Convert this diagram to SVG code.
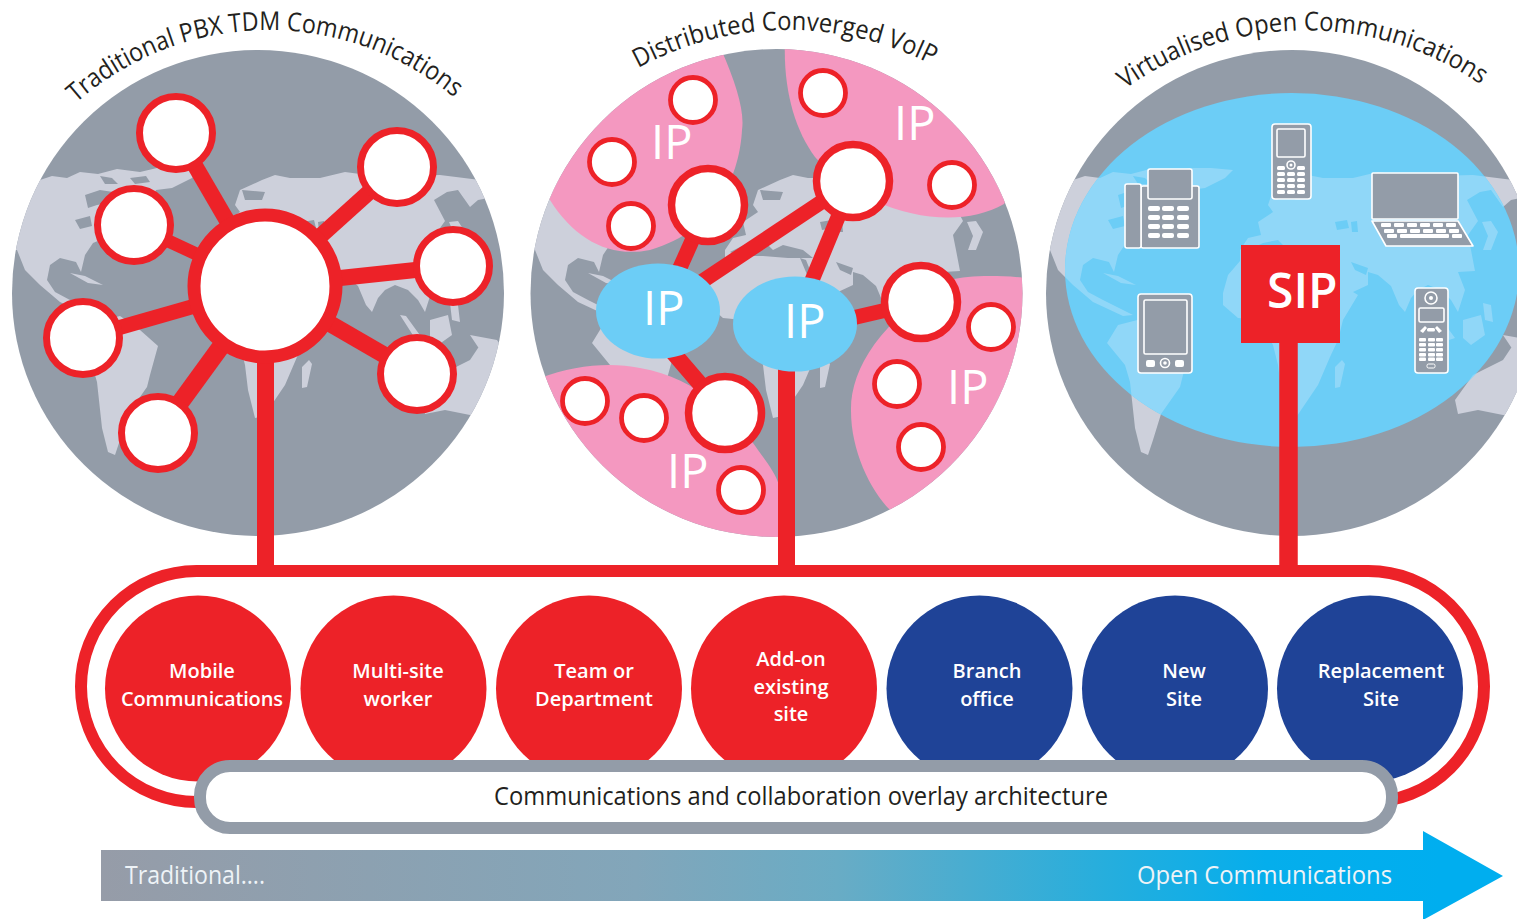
<svg xmlns="http://www.w3.org/2000/svg" width="1517" height="919" viewBox="0 0 1517 919">
<style>
text{font-family:"Open Sans","Noto Sans","Liberation Sans",sans-serif}
.globe{fill:#939ca8}
.land{fill:#cdd0db}
.sea{fill:#939ca8}
.pink{fill:#f498c0}
.sky{fill:#6ccdf6}
.n1{fill:#fff;stroke:#ed2228;stroke-width:7}
.n2{fill:#fff;stroke:#ed2228;stroke-width:7.500}
.n3{fill:#fff;stroke:#ed2228;stroke-width:4.800}
.hub{fill:#fff;stroke:#ed2228;stroke-width:13}
.c{stroke:#ed2228;fill:none}
.title{font-size:26px;fill:#231f20}
.ip{font-size:47px;fill:#fff;font-weight:500}
.sip{font-size:48px;fill:#fff;font-weight:600}
.lab{font-size:20px;font-weight:600;fill:#fff;text-anchor:middle}
.red{fill:#ed2228}
.blue{fill:#1f4397}
.dev{fill:#939ca8;stroke:#fff;stroke-width:1.600;stroke-linejoin:round}
.key{fill:#fff}
.arr{font-size:25px;fill:#eef3f7}
</style>
<defs>
<clipPath id="cg1"><ellipse cx="258" cy="293" rx="246" ry="243"/></clipPath>
<clipPath id="cg2"><ellipse cx="776.5" cy="293" rx="246" ry="244"/></clipPath>
<clipPath id="cg3"><ellipse cx="1292" cy="293" rx="246" ry="243"/></clipPath>
<clipPath id="co3"><ellipse cx="1292" cy="270" rx="227" ry="177"/></clipPath>
<linearGradient id="ag" gradientUnits="userSpaceOnUse" x1="101" y1="0" x2="1440" y2="0">
<stop offset="0" stop-color="#969ca8"/><stop offset=".4" stop-color="#82a6ba"/><stop offset=".55" stop-color="#69acc5"/><stop offset=".75" stop-color="#26aedd"/><stop offset=".87" stop-color="#05aeec"/><stop offset="1" stop-color="#00aeef"/>
</linearGradient>
<path id="landp" d="M-20,180 L40,180 52,176 67,178 80,172 98,174 117,169 140,172 157,168 178,168 200,170 192,178 172,188 156,190 150,205 135,212 118,225 105,238 93,243 85,255 81,272 76,262 60,258 50,265 47,280 55,292 70,300 100,315 90,316 60,302 40,285 25,270 17,250 -20,250Z
M85,325 L120,316 140,330 158,346 150,375 147,387 128,414 120,440 115,455 108,452 102,428 97,382 92,365 74,343Z
M190,293 L195,275 207,261 207,250 215,238 228,235 225,222 240,212 235,205 240,190 262,180 275,175 290,178 320,178 345,172 375,176 400,176 440,175 480,180 530,180 530,190 478,200 470,207 458,190 447,192 434,200 445,221 435,235 438,250 442,271 425,272 432,290 425,312 418,300 408,290 395,285 385,290 378,298 372,312 366,305 358,286 345,275 335,272 335,285 320,292 325,295 310,320 305,340 297,357 285,385 264,416 255,418 248,390 245,365 240,345 225,320 205,318 190,305Z
M422,400 L440,375 470,360 480,345 497,350 530,380 510,420 470,415 445,410 425,414Z
M449,222 L458,221 465,232 458,250 450,250 455,236Z
M400,315 L406,316 422,338 416,340Z M430,320 L448,315 452,335 438,345 430,338Z M450,303 L458,305 460,322 452,320Z M470,335 L497,340 505,352 480,350Z
M302,367 L309,360 312,364 307,387 302,388Z
M70,273 L85,276 103,285 88,283Z"/>
<path id="seap" d="M85,195 L100,190 113,192 108,203 97,205 88,208Z M75,220 L90,216 92,226 80,229Z M100,176 L112,178 118,184 105,184Z M130,178 L146,176 150,182 135,184Z M212,252 L230,243 245,240 255,250 265,245 285,250 295,258 270,258 245,256 220,256Z M302,222 L314,220 316,228 304,230Z M318,222 L324,221 325,232 319,232Z M242,190 L265,192 262,200 245,200Z M282,258 L288,260 298,285 293,284Z M318,262 L335,268 333,275 322,270Z"/>
</defs>

<g id="globe-traditional">
<ellipse class="globe" cx="258" cy="293" rx="246" ry="243"/>
<g clip-path="url(#cg1)"><use href="#landp" class="land"/><use href="#seap" class="sea"/></g>
<path id="t1" d="M76,103 A290,290 0 0 1 480,122" fill="none"/>
<text class="title"><textPath href="#t1" textLength="412" lengthAdjust="spacingAndGlyphs">Traditional PBX TDM Communications</textPath></text>
</g>

<g id="globe-distributed">
<ellipse class="globe" cx="776.5" cy="293" rx="246" ry="244"/>
<g clip-path="url(#cg2)">
<use href="#landp" class="land" x="518"/><use href="#seap" class="sea" x="518"/>
<path class="pink" d="M717,40 C735,80 745,110 742,130 C740,170 720,230 650,250 C610,258 575,240 550,200 L490,120 L640,20Z"/>
<path class="pink" d="M785,40 C783,90 795,130 815,157 C860,210 950,235 1004,204 L1060,100 L1000,20Z"/>
<path class="pink" d="M1040,279 C1000,275 970,275 950,280 C880,320 850,370 851,411 C851,450 870,490 890,510 L1040,540Z"/>
<path class="pink" d="M540,378 C575,365 610,362 640,368 C700,378 735,420 753,443 C765,460 775,472 779,485 L779,545 L500,545Z"/>
</g>
<path id="t2" d="M638,68 A315,315 0 0 1 960,81" fill="none"/>
<text class="title"><textPath href="#t2" textLength="306" lengthAdjust="spacingAndGlyphs">Distributed Converged VoIP</textPath></text>
<text class="ip" x="651" y="159">IP</text>
<text class="ip" x="894" y="140">IP</text>
<text class="ip" x="947" y="404">IP</text>
<text class="ip" x="667" y="488">IP</text>
</g>

<g id="globe-virtualised">
<ellipse class="globe" cx="1292" cy="293" rx="246" ry="243"/>
<g clip-path="url(#cg3)"><use href="#landp" class="land" x="1033"/><use href="#seap" class="sea" x="1033"/></g>
<ellipse class="sky" cx="1292" cy="270" rx="227" ry="177"/>
<g clip-path="url(#co3)"><use href="#landp" fill="#90d7f8" x="1033"/><use href="#seap" class="sky" x="1033"/></g>
<path id="t3" d="M1125,89 A309,309 0 0 1 1505,103" fill="none"/>
<text class="title"><textPath href="#t3" textLength="379" lengthAdjust="spacingAndGlyphs">Virtualised Open Communications</textPath></text>
</g>

<g id="connectors">
<path class="c" stroke-width="16" d="M176,133 L265,286"/>
<path class="c" stroke-width="13" d="M134,225 L265,286"/>
<path class="c" stroke-width="16" d="M397,167 L265,286"/>
<path class="c" stroke-width="16" d="M453,266 L265,286"/>
<path class="c" stroke-width="15" d="M83,338 L265,286"/>
<path class="c" stroke-width="18" d="M158,433 L265,286"/>
<path class="c" stroke-width="17" d="M417,374 L265,286"/>
<path class="c" stroke-width="17" d="M265.500,286 V570"/>
<path class="c" stroke-width="15" d="M708,205 L670,290"/>
<path class="c" stroke-width="15" d="M853,181 L680,296"/>
<path class="c" stroke-width="15" d="M853,181 L808,290"/>
<path class="c" stroke-width="15" d="M921,302 L835,322"/>
<path class="c" stroke-width="16" d="M658,335 L725,413"/>
<path class="c" stroke-width="17" d="M786.500,340 V570"/>
<path class="c" stroke-width="18.500" d="M1288.500,320 V570"/>
<rect class="c" stroke-width="12" x="81" y="571" width="1403" height="231" rx="115.500"/>
</g>

<g id="hub-traditional"><circle class="hub" cx="265" cy="286" r="71"/></g>
<g id="node-t1"><circle class="n1" cx="176" cy="133" r="36.500"/></g>
<g id="node-t2"><circle class="n1" cx="397" cy="167" r="36.500"/></g>
<g id="node-t3"><circle class="n1" cx="134" cy="225" r="36.500"/></g>
<g id="node-t4"><circle class="n1" cx="453" cy="266" r="36.500"/></g>
<g id="node-t5"><circle class="n1" cx="83" cy="338" r="36.500"/></g>
<g id="node-t6"><circle class="n1" cx="417" cy="374" r="36.500"/></g>
<g id="node-t7"><circle class="n1" cx="158" cy="433" r="36.500"/></g>

<g id="ip-cloud-left"><ellipse class="sky" cx="658" cy="311" rx="62" ry="47.500"/><text class="ip" x="643" y="325">IP</text></g>
<g id="ip-cloud-right"><ellipse class="sky" cx="795" cy="324" rx="62" ry="47.500"/><text class="ip" x="784" y="338">IP</text></g>
<g id="node-d-large">
<circle class="n2" cx="708" cy="205" r="36.500"/><circle class="n2" cx="853" cy="181" r="36.500"/><circle class="n2" cx="921" cy="302" r="36.500"/><circle class="n2" cx="725" cy="413" r="36.500"/>
</g>
<g id="node-d-small">
<circle class="n3" cx="693" cy="100" r="22.500"/><circle class="n3" cx="612" cy="162" r="22.500"/><circle class="n3" cx="631" cy="226" r="22.500"/><circle class="n3" cx="823" cy="93" r="22.500"/><circle class="n3" cx="952" cy="185" r="22.500"/><circle class="n3" cx="991" cy="327" r="22.500"/><circle class="n3" cx="897" cy="384" r="22.500"/><circle class="n3" cx="921" cy="447" r="22.500"/><circle class="n3" cx="585" cy="401" r="22.500"/><circle class="n3" cx="644" cy="418" r="22.500"/><circle class="n3" cx="741" cy="490" r="22.500"/>
</g>

<g id="sip"><rect class="red" x="1241" y="245" width="99" height="98"/><text class="sip" x="1267" y="308">SIP</text></g>

<g id="device-deskphone">
<rect class="dev" x="1141" y="186" width="58" height="62" rx="2"/>
<rect class="dev" x="1125" y="184" width="16" height="64" rx="2"/>
<rect class="dev" x="1148" y="169" width="44" height="30" rx="2"/>
<g class="key"><rect x="1148" y="206" width="12" height="5" rx="2"/><rect x="1162" y="206" width="12" height="5" rx="2"/><rect x="1177" y="206" width="12" height="5" rx="2"/><rect x="1148" y="215" width="12" height="5" rx="2"/><rect x="1162" y="215" width="12" height="5" rx="2"/><rect x="1177" y="215" width="12" height="5" rx="2"/><rect x="1148" y="224" width="12" height="5" rx="2"/><rect x="1162" y="224" width="12" height="5" rx="2"/><rect x="1177" y="224" width="12" height="5" rx="2"/><rect x="1148" y="233" width="12" height="5" rx="2"/><rect x="1162" y="233" width="12" height="5" rx="2"/><rect x="1177" y="233" width="12" height="5" rx="2"/></g>
</g>
<g id="device-mobile">
<rect class="dev" x="1272" y="124" width="39" height="75" rx="3"/>
<rect class="dev" x="1277" y="129" width="28" height="28" rx="1.500"/>
<circle class="dev" cx="1291" cy="165" r="4"/><circle class="key" cx="1291" cy="165" r="1.500"/>
<g class="key"><rect x="1277" y="166" width="8" height="4" rx="1.500"/><rect x="1297" y="166" width="8" height="4" rx="1.500"/><rect x="1277" y="172" width="8" height="4" rx="1.500"/><rect x="1287" y="172" width="8" height="4" rx="1.500"/><rect x="1297" y="172" width="8" height="4" rx="1.500"/><rect x="1277" y="178" width="8" height="4" rx="1.500"/><rect x="1287" y="178" width="8" height="4" rx="1.500"/><rect x="1297" y="178" width="8" height="4" rx="1.500"/><rect x="1277" y="184" width="8" height="4" rx="1.500"/><rect x="1287" y="184" width="8" height="4" rx="1.500"/><rect x="1297" y="184" width="8" height="4" rx="1.500"/><rect x="1277" y="190" width="8" height="4" rx="1.500"/><rect x="1287" y="190" width="8" height="4" rx="1.500"/><rect x="1297" y="190" width="8" height="4" rx="1.500"/></g>
</g>
<g id="device-laptop">
<rect class="dev" x="1372" y="173" width="86" height="46" rx="1"/>
<path class="dev" d="M1372,221 H1458 L1473,246 H1386Z"/>
<g class="key"><rect x="1381" y="223" width="10" height="4" rx="1"/><rect x="1394" y="223" width="10" height="4" rx="1"/><rect x="1407" y="223" width="10" height="4" rx="1"/><rect x="1420" y="223" width="10" height="4" rx="1"/><rect x="1433" y="223" width="10" height="4" rx="1"/><rect x="1446" y="223" width="10" height="4" rx="1"/><rect x="1384" y="229" width="10" height="4" rx="1"/><rect x="1397" y="229" width="10" height="4" rx="1"/><rect x="1410" y="229" width="10" height="4" rx="1"/><rect x="1423" y="229" width="10" height="4" rx="1"/><rect x="1436" y="229" width="10" height="4" rx="1"/><rect x="1449" y="229" width="10" height="4" rx="1"/><rect x="1387" y="234" width="10" height="4" rx="1"/><rect x="1400" y="234" width="49" height="4" rx="1"/><rect x="1452" y="234" width="10" height="4" rx="1"/></g>
</g>
<g id="device-tablet">
<rect class="dev" x="1138" y="294" width="54" height="79" rx="3"/>
<rect class="dev" x="1144" y="300" width="43" height="54" rx="1.500"/>
<rect class="key" x="1146" y="360" width="9" height="7" rx="2"/><rect class="key" x="1175" y="360" width="9" height="7" rx="2"/>
<circle class="dev" cx="1165" cy="363" r="4.500"/><circle class="key" cx="1165" cy="363" r="1.800"/>
</g>
<g id="device-cordless">
<rect class="dev" x="1415" y="288" width="33" height="85" rx="3"/>
<circle class="dev" cx="1431" cy="298" r="6"/><circle class="key" cx="1431" cy="298" r="2"/>
<rect class="dev" x="1419" y="308" width="25" height="14" rx="1.500"/>
<g class="key"><path d="M1420,331 L1425,326 1427,328 1423,333Z"/><path d="M1442,331 L1437,326 1435,328 1439,333Z"/><rect x="1427" y="328" width="8" height="3.500" rx="1.500"/><rect x="1419" y="338" width="7" height="3.500" rx="1"/><rect x="1428" y="338" width="7" height="3.500" rx="1"/><rect x="1436" y="338" width="7" height="3.500" rx="1"/><rect x="1419" y="343" width="7" height="3.500" rx="1"/><rect x="1428" y="343" width="7" height="3.500" rx="1"/><rect x="1436" y="343" width="7" height="3.500" rx="1"/><rect x="1419" y="348" width="7" height="3.500" rx="1"/><rect x="1428" y="348" width="7" height="3.500" rx="1"/><rect x="1436" y="348" width="7" height="3.500" rx="1"/><rect x="1419" y="353" width="7" height="3.500" rx="1"/><rect x="1428" y="353" width="7" height="3.500" rx="1"/><rect x="1436" y="353" width="7" height="3.500" rx="1"/><rect x="1419" y="357.500" width="7" height="3.500" rx="1"/><rect x="1428" y="357.500" width="7" height="3.500" rx="1"/><rect x="1436" y="357.500" width="7" height="3.500" rx="1"/></g>
<rect x="1427" y="364" width="8" height="4" rx="1.500" fill="none" stroke="#fff" stroke-width="1"/>
</g>

<g id="site-mobile"><circle class="red" cx="198" cy="688.500" r="93"/><text class="lab"><tspan x="202" y="678">Mobile</tspan><tspan x="202" y="706" textLength="162">Communications</tspan></text></g>
<g id="site-multi"><circle class="red" cx="393.500" cy="688.500" r="93"/><text class="lab"><tspan x="398" y="678">Multi-site</tspan><tspan x="398" y="706">worker</tspan></text></g>
<g id="site-team"><circle class="red" cx="589" cy="688.500" r="93"/><text class="lab"><tspan x="594" y="678">Team or</tspan><tspan x="594" y="706">Department</tspan></text></g>
<g id="site-addon"><circle class="red" cx="784" cy="688.500" r="93"/><text class="lab"><tspan x="791" y="666">Add-on</tspan><tspan x="791" y="694">existing</tspan><tspan x="791" y="721">site</tspan></text></g>
<g id="site-branch"><circle class="blue" cx="979.500" cy="688.500" r="93"/><text class="lab"><tspan x="987" y="678">Branch</tspan><tspan x="987" y="706">office</tspan></text></g>
<g id="site-new"><circle class="blue" cx="1175" cy="688.500" r="93"/><text class="lab"><tspan x="1184" y="678">New</tspan><tspan x="1184" y="706">Site</tspan></text></g>
<g id="site-replacement"><circle class="blue" cx="1370" cy="688.500" r="93"/><text class="lab"><tspan x="1381" y="678">Replacement</tspan><tspan x="1381" y="706">Site</tspan></text></g>

<g id="overlay">
<rect x="200" y="766" width="1192" height="62" rx="30" fill="#fff" stroke="#939ca8" stroke-width="12"/>
<text x="494" y="805" font-size="25.500" fill="#231f20" textLength="614" lengthAdjust="spacingAndGlyphs">Communications and collaboration overlay architecture</text>
</g>

<g id="timeline">
<path fill="url(#ag)" d="M101,850 H1423 V831 L1503,876 1423,920 V901 H101Z"/>
<text class="arr" x="125" y="884" textLength="140" lengthAdjust="spacingAndGlyphs">Traditional....</text>
<text class="arr" x="1137" y="884" textLength="255" lengthAdjust="spacingAndGlyphs">Open Communications</text>
</g>
</svg>
